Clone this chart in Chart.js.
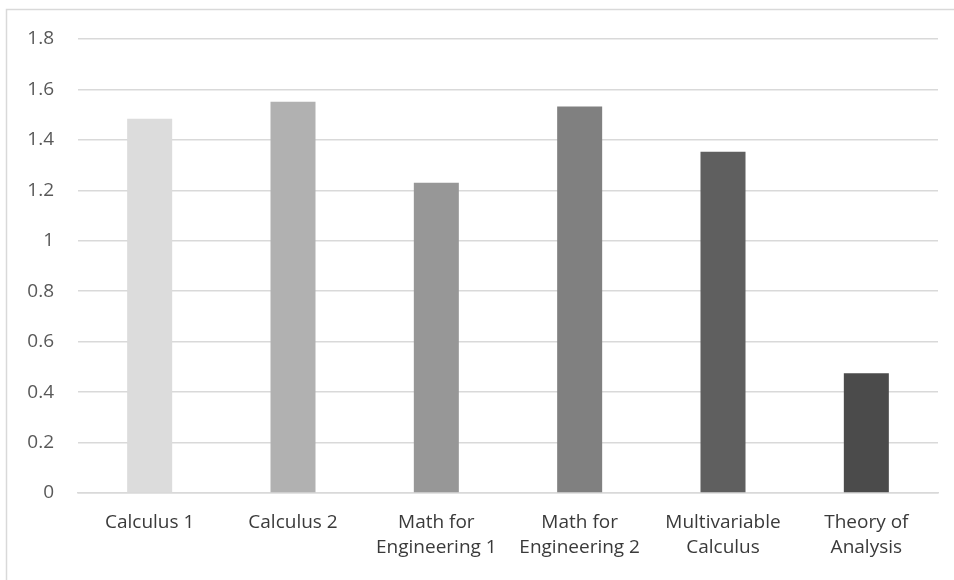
<!DOCTYPE html>
<html>
<head>
<meta charset="utf-8">
<script src="https://cdn.jsdelivr.net/npm/chart.js@4.4.1/dist/chart.umd.min.js"></script>
<style>
html,body{margin:0;padding:0;background:#fff;}
#wrap{position:absolute;left:0;top:0;width:954px;height:580px;}
</style>
</head>
<body>
<div id="wrap"><canvas id="c" width="954" height="580"></canvas></div>
<script>
const categories = [
  ["Calculus 1"],
  ["Calculus 2"],
  ["Math for", "Engineering 1"],
  ["Math for", "Engineering 2"],
  ["Multivariable", "Calculus"],
  ["Theory of", "Analysis"]
];
const values = [1.484, 1.551, 1.23, 1.532, 1.353, 0.475];
const barColors = ["#dcdcdc", "#b1b1b1", "#979797", "#808080", "#5f5f5f", "#4b4b4b"];
const yMin = 0, yMax = 1.8, yStep = 0.2;

const frame = {
  id: 'frame',
  beforeDraw(chart) {
    const ctx = chart.ctx;
    ctx.save();
    ctx.strokeStyle = '#d9d9d9';
    ctx.lineWidth = 1.5;
    ctx.beginPath();
    ctx.moveTo(6.5, 600);
    ctx.lineTo(6.5, 9.5);
    ctx.lineTo(960, 9.5);
    ctx.stroke();
    ctx.restore();
  }
};

new Chart(document.getElementById('c'), {
  type: 'bar',
  data: {
    labels: categories,
    datasets: [{
      data: values,
      backgroundColor: barColors,
      borderWidth: 0,
      barPercentage: 0.314,
      categoryPercentage: 1
    }]
  },
  options: {
    responsive: false,
    animation: false,
    devicePixelRatio: 1,
    layout: { padding: { top: 39, right: 16, left: 0, bottom: 0 } },
    plugins: { legend: { display: false }, tooltip: { enabled: false } },
    scales: {
      x: {
        grid: { display: false, drawTicks: false },
        border: { display: true, color: '#d9d9d9', width: 1.5 },
        ticks: {
          color: '#3a3a3a',
          font: { family: 'Open Sans', size: 19, lineHeight: 1.316 },
          maxRotation: 0, autoSkip: false, padding: 17
        },
        afterFit(s) { s.height = 87; }
      },
      y: {
        min: yMin, max: yMax,
        grid: { color: '#d9d9d9', lineWidth: 1.5, drawTicks: false },
        border: { display: false },
        ticks: {
          stepSize: yStep,
          color: '#595959',
          font: { family: 'Open Sans', size: 19 },
          padding: 24,
          callback: v => String(+v.toFixed(1))
        },
        afterFit(s) { s.width = 78; }
      }
    }
  },
  plugins: [frame]
});
</script>
</body>
</html>
